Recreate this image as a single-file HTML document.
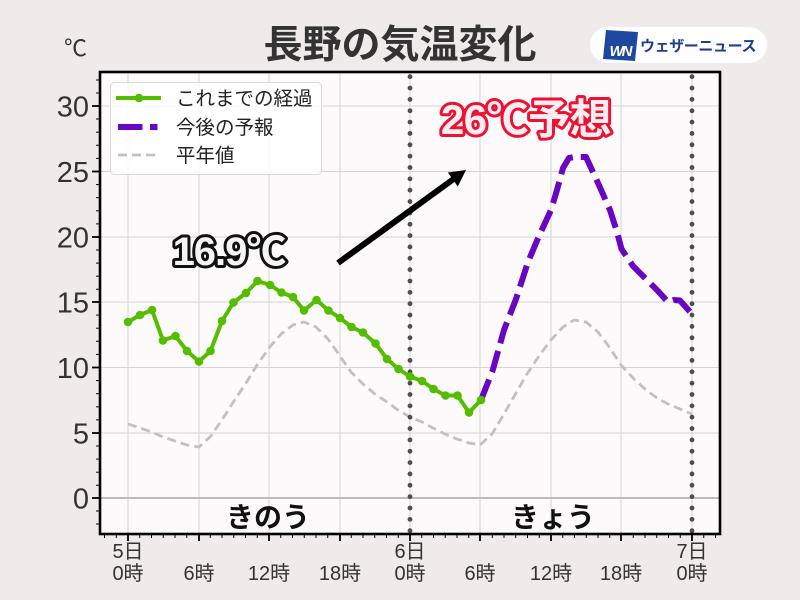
<!DOCTYPE html>
<html><head><meta charset="utf-8">
<style>
html,body{margin:0;padding:0;background:#eeebea;}
svg{display:block;}
text{font-family:"Liberation Sans","Noto Sans CJK JP",sans-serif;}
</style></head>
<body>
<svg width="800" height="600" viewBox="0 0 800 600" xmlns="http://www.w3.org/2000/svg">
<rect x="0" y="0" width="800" height="600" fill="#eeebea"/>
<!-- title -->
<text x="400" y="58" text-anchor="middle" font-size="39" font-weight="bold" fill="#333">長野の気温変化</text>
<text x="64" y="56" font-size="23" fill="#333">℃</text>
<!-- logo -->
<rect x="590" y="27" width="177" height="36" rx="18" fill="#ffffff"/>
<polygon points="606,30 638,32 635,61 603,59" fill="#1e47a0"/>
<text x="620" y="56" text-anchor="middle" font-size="15" font-weight="bold" font-style="italic" fill="#fff" letter-spacing="-2">WN</text>
<text x="640" y="51" font-size="15" font-weight="bold" fill="#1f3e8c" letter-spacing="-0.4">ウェザーニュース</text>

<!-- plot bg -->
<rect x="100" y="72" width="620" height="462" fill="#fcfafb"/>
<defs><clipPath id="pc"><rect x="100" y="72" width="620" height="462"/></clipPath></defs>
<g clip-path="url(#pc)">
<!-- grid -->
<g stroke="#d6d3d5" stroke-width="1">
<line x1="128" y1="72" x2="128" y2="534"/><line x1="199" y1="72" x2="199" y2="534"/>
<line x1="269" y1="72" x2="269" y2="534"/><line x1="340" y1="72" x2="340" y2="534"/>
<line x1="410" y1="72" x2="410" y2="534"/><line x1="480" y1="72" x2="480" y2="534"/>
<line x1="551" y1="72" x2="551" y2="534"/><line x1="621" y1="72" x2="621" y2="534"/>
<line x1="692" y1="72" x2="692" y2="534"/>
<line x1="100" y1="106" x2="720" y2="106"/><line x1="100" y1="171.5" x2="720" y2="171.5"/>
<line x1="100" y1="237" x2="720" y2="237"/><line x1="100" y1="302" x2="720" y2="302"/>
<line x1="100" y1="367.5" x2="720" y2="367.5"/><line x1="100" y1="433" x2="720" y2="433"/>
</g>
<line x1="100" y1="498" x2="720" y2="498" stroke="#bdbbbc" stroke-width="2"/>
<!-- normal -->
<polyline fill="none" stroke="#c2c0c1" stroke-width="2.8" stroke-dasharray="9,5" stroke-linejoin="round"
points="128,424 140,428 152,432 163,437 175,441 187,445 199,447 210,437 222,420 234,401 246,383 257,365 269,348 281,334 293,325 304,322 316,327 328,339 340,356 351,372 363,384 375,394 387,402 398,410 410,417 422,422 433,428 445,434 457,439 469,443 480,445 492,434 504,414 516,393 527,374 539,356 551,340 563,327 574,320 586,322 598,332 610,348 621,365 633,378 645,389 657,398 668,404 680,409 692,414"/>
<!-- dotted day lines -->
<line x1="410" y1="76.7" x2="410" y2="545" stroke="#4d4d4d" stroke-width="4.8" stroke-linecap="round" stroke-dasharray="0,11.35"/>
<line x1="692" y1="76.7" x2="692" y2="545" stroke="#4d4d4d" stroke-width="4.8" stroke-linecap="round" stroke-dasharray="0,11.35"/>
<!-- forecast -->
<polyline fill="none" stroke="#6a05c2" stroke-width="6" stroke-dasharray="22,8" stroke-linejoin="round"
points="481,400 492.5,371 504,330 516,299 528,262 539,236 551,210 557,190 563,168 569,158 574.5,157 586,157 598,183 610,210 617,232 621.5,249 633,266 645,278 657,290 668,302 674,300 680,300.5 692,314"/>
<!-- observed -->
<polyline fill="none" stroke="#55bd00" stroke-width="4" stroke-linejoin="round"
points="128,322 140,315 152,310 163,340.5 175.5,336 187,351 199,361.5 210.5,351 222,321 233.5,302.5 246,293 257.5,281 270,285 281.5,292.5 293,297 304,310.5 316.5,300 328.5,310.5 340,318 351.5,327 363,332.5 375.5,343.5 387,359 398.5,369 410,376.5 422,381 433.5,389 445.5,395.5 457.5,395.5 469,412.5 481,400"/>
<g fill="#55bd00">
<circle cx="128" cy="322" r="4.3"/><circle cx="140" cy="315" r="4.3"/><circle cx="152" cy="310" r="4.3"/>
<circle cx="163" cy="340.5" r="4.3"/><circle cx="175.5" cy="336" r="4.3"/><circle cx="187" cy="351" r="4.3"/>
<circle cx="199" cy="361.5" r="4.3"/><circle cx="210.5" cy="351" r="4.3"/><circle cx="222" cy="321" r="4.3"/>
<circle cx="233.5" cy="302.5" r="4.3"/><circle cx="246" cy="293" r="4.3"/><circle cx="257.5" cy="281" r="4.3"/>
<circle cx="270" cy="285" r="4.3"/><circle cx="281.5" cy="292.5" r="4.3"/><circle cx="293" cy="297" r="4.3"/>
<circle cx="304" cy="310.5" r="4.3"/><circle cx="316.5" cy="300" r="4.3"/><circle cx="328.5" cy="310.5" r="4.3"/>
<circle cx="340" cy="318" r="4.3"/><circle cx="351.5" cy="327" r="4.3"/><circle cx="363" cy="332.5" r="4.3"/>
<circle cx="375.5" cy="343.5" r="4.3"/><circle cx="387" cy="359" r="4.3"/><circle cx="398.5" cy="369" r="4.3"/>
<circle cx="410" cy="376.5" r="4.3"/><circle cx="422" cy="381" r="4.3"/><circle cx="433.5" cy="389" r="4.3"/>
<circle cx="445.5" cy="395.5" r="4.3"/><circle cx="457.5" cy="395.5" r="4.3"/><circle cx="469" cy="412.5" r="4.3"/>
<circle cx="481" cy="400" r="4.3"/>
</g>
<!-- day labels -->
<text x="268" y="527" text-anchor="middle" font-size="28" font-weight="bold" fill="#111">きのう</text>
<text x="553" y="527" text-anchor="middle" font-size="28" font-weight="bold" fill="#111">きょう</text>
<!-- annotations -->
<text x="229" y="265" text-anchor="middle" font-size="40" font-weight="bold" fill="#f4f4f4" stroke="#111" stroke-width="6" stroke-linejoin="round" paint-order="stroke" letter-spacing="-1">16.9℃</text>
<text x="526" y="134" text-anchor="middle" font-size="42" font-weight="bold" fill="#f6eef0" stroke="#ee1133" stroke-width="6" stroke-linejoin="round" paint-order="stroke" letter-spacing="-0.5">26℃予想</text>
<line x1="338" y1="263" x2="455" y2="178" stroke="#000" stroke-width="6"/>
<polygon points="466,170 457.8,186.5 447.8,172.5" fill="#000"/>
<!-- legend -->
<rect x="110.5" y="82.5" width="211" height="92" rx="4" fill="#ffffff" fill-opacity="0.85" stroke="#dcdadb"/>
<line x1="116" y1="98" x2="161" y2="98" stroke="#55bd00" stroke-width="4"/>
<circle cx="139" cy="98" r="4.3" fill="#55bd00"/>
<rect x="118" y="124" width="24.5" height="6" fill="#6a05c2"/>
<rect x="150" y="124" width="7.5" height="6" fill="#6a05c2"/>
<line x1="118" y1="155" x2="160" y2="155" stroke="#c2c0c1" stroke-width="2.8" stroke-dasharray="9,5"/>
<text x="176" y="105" font-size="19.5" fill="#222">これまでの経過</text>
<text x="176" y="134" font-size="19.5" fill="#222">今後の予報</text>
<text x="176" y="162" font-size="19.5" fill="#222">平年値</text>
</g>
<!-- spines -->
<rect x="100" y="72" width="620" height="462" fill="none" stroke="#000" stroke-width="2.6"/>
<!-- y ticks -->
<g stroke="#000" stroke-width="1.8">
<line x1="92" y1="106" x2="100" y2="106"/><line x1="92" y1="171.5" x2="100" y2="171.5"/>
<line x1="92" y1="237" x2="100" y2="237"/><line x1="92" y1="302" x2="100" y2="302"/>
<line x1="92" y1="367.5" x2="100" y2="367.5"/><line x1="92" y1="433" x2="100" y2="433"/>
<line x1="92" y1="498" x2="100" y2="498"/>
</g>
<g stroke="#000" stroke-width="1">
<line x1="96" y1="80" x2="100" y2="80"/><line x1="96" y1="93" x2="100" y2="93"/>
<line x1="96" y1="119" x2="100" y2="119"/><line x1="96" y1="132.2" x2="100" y2="132.2"/><line x1="96" y1="145.3" x2="100" y2="145.3"/><line x1="96" y1="158.4" x2="100" y2="158.4"/>
<line x1="96" y1="184.6" x2="100" y2="184.6"/><line x1="96" y1="197.7" x2="100" y2="197.7"/><line x1="96" y1="210.8" x2="100" y2="210.8"/><line x1="96" y1="223.9" x2="100" y2="223.9"/>
<line x1="96" y1="250" x2="100" y2="250"/><line x1="96" y1="263.1" x2="100" y2="263.1"/><line x1="96" y1="276.2" x2="100" y2="276.2"/><line x1="96" y1="289.3" x2="100" y2="289.3"/>
<line x1="96" y1="315.1" x2="100" y2="315.1"/><line x1="96" y1="328.2" x2="100" y2="328.2"/><line x1="96" y1="341.3" x2="100" y2="341.3"/><line x1="96" y1="354.4" x2="100" y2="354.4"/>
<line x1="96" y1="380.6" x2="100" y2="380.6"/><line x1="96" y1="393.7" x2="100" y2="393.7"/><line x1="96" y1="406.8" x2="100" y2="406.8"/><line x1="96" y1="419.9" x2="100" y2="419.9"/>
<line x1="96" y1="446" x2="100" y2="446"/><line x1="96" y1="459.1" x2="100" y2="459.1"/><line x1="96" y1="472.2" x2="100" y2="472.2"/><line x1="96" y1="485.3" x2="100" y2="485.3"/>
<line x1="96" y1="511" x2="100" y2="511"/><line x1="96" y1="524" x2="100" y2="524"/>
</g>
<g font-size="29" fill="#333" text-anchor="end">
<text x="89" y="116.5">30</text><text x="89" y="182">25</text><text x="89" y="247.5">20</text>
<text x="89" y="312.5">15</text><text x="89" y="378">10</text><text x="89" y="443.5">5</text><text x="89" y="508.5">0</text>
</g>
<!-- x ticks -->
<g stroke="#000" stroke-width="1.8">
<line x1="128" y1="534" x2="128" y2="541"/><line x1="199" y1="534" x2="199" y2="541"/>
<line x1="269" y1="534" x2="269" y2="541"/><line x1="340" y1="534" x2="340" y2="541"/>
<line x1="410" y1="534" x2="410" y2="541"/><line x1="480" y1="534" x2="480" y2="541"/>
<line x1="551" y1="534" x2="551" y2="541"/><line x1="621" y1="534" x2="621" y2="541"/>
<line x1="692" y1="534" x2="692" y2="541"/>
</g>
<path stroke="#000" stroke-width="1" fill="none" d="M104.5 534v4M116.25 534v4M139.75 534v4M151.5 534v4M163.25 534v4M175 534v4M186.75 534v4M210.25 534v4M222 534v4M233.75 534v4M245.5 534v4M257.25 534v4M280.75 534v4M292.5 534v4M304.25 534v4M316 534v4M327.75 534v4M351.25 534v4M363 534v4M374.75 534v4M386.5 534v4M398.25 534v4M421.75 534v4M433.5 534v4M445.25 534v4M457 534v4M468.75 534v4M492.25 534v4M504 534v4M515.75 534v4M527.5 534v4M539.25 534v4M562.75 534v4M574.5 534v4M586.25 534v4M598 534v4M609.75 534v4M633.25 534v4M645 534v4M656.75 534v4M668.5 534v4M680.25 534v4M703.75 534v4M715.5 534v4"/>
<g font-size="20" fill="#333" text-anchor="middle">
<text x="128" y="558">5日</text><text x="128" y="580">0時</text>
<text x="199" y="580">6時</text><text x="269" y="580">12時</text><text x="340" y="580">18時</text>
<text x="410" y="558">6日</text><text x="410" y="580">0時</text>
<text x="480" y="580">6時</text><text x="551" y="580">12時</text><text x="621" y="580">18時</text>
<text x="692" y="558">7日</text><text x="692" y="580">0時</text>
</g>
</svg>
</body></html>
